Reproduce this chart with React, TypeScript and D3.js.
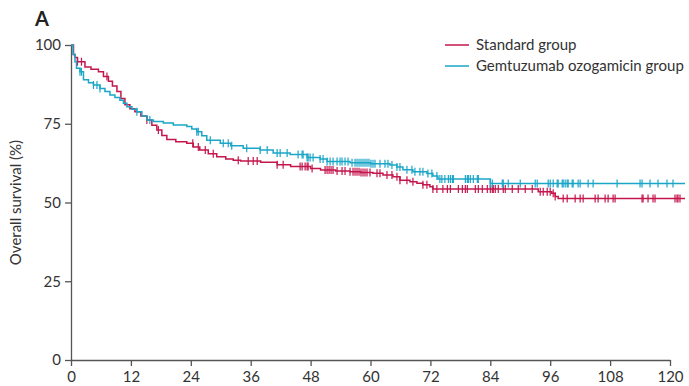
import React, { useEffect, useRef } from 'react';
import * as d3 from 'd3';

// x ticks (months) and y ticks (%)
const monthTicks = [0, 12, 24, 36, 48, 60, 72, 84, 96, 108, 120];
const survivalTicks = [0, 25, 50, 75, 100];

// Kaplan-Meier steps: [month, survival %]
const standardSteps: [number, number][] = [
  [0, 100], [0.5, 97], [0.8, 96], [1.3, 94.7], [2.8, 93], [4.0, 92.3], [5.5, 91.5],
  [6.5, 90], [7.5, 88.5], [8.3, 87], [9.2, 85.2], [10.0, 83], [10.8, 81], [11.8, 79.8],
  [12.8, 78.8], [14, 77.5], [15.2, 76.2], [16.2, 74.5], [17.2, 73], [18.2, 71.3],
  [19.2, 70], [21, 69.3], [23.2, 68.8], [24.5, 67.6], [25.8, 66.7], [27.5, 65.5],
  [29.2, 64.5], [31, 63.8], [32.5, 63.4], [34, 63.2], [38, 62.8], [41.3, 62],
  [44, 61.4], [48, 60.8], [50, 60.3], [53, 60], [55.9, 59.8], [58, 59.5], [60.5, 59.3],
  [62.5, 58.7], [64.5, 58.2], [65.9, 57.1], [67.9, 56.6], [69.3, 56.1], [70.5, 55.6],
  [71.9, 55.0], [72.5, 54.3], [93.6, 53.4], [96.3, 52.9], [97, 51.9], [97.6, 51.3],
  [123, 51.3],
];

const gemtuzumabSteps: [number, number][] = [
  [0, 100], [0.4, 97], [0.8, 94.7], [1.1, 92.6], [1.8, 91.5], [2.5, 89], [3.5, 88],
  [4.5, 87.3], [5.8, 86.2], [6.8, 85.2], [7.8, 84.1], [8.8, 83.3], [9.8, 82.5],
  [10.5, 81.5], [11.2, 80.4], [12.2, 79.6], [13.2, 78.8], [14.2, 77.5], [15.2, 76.2],
  [16.5, 75.7], [18.5, 75.2], [20.5, 74.6], [23.2, 74.1], [24.2, 73.3], [25.2, 72.5],
  [26.2, 71.2], [27.2, 69.8], [29.9, 68.8], [32, 68.0], [34.5, 67.2], [37.9, 66.7],
  [40.5, 65.7], [43.9, 65.2], [47.3, 64.3], [49.9, 63.8], [51.3, 63.0], [55.9, 62.6],
  [60, 62.3], [63.9, 61.9], [65.3, 61.3], [66.5, 60.4], [68.5, 59.8], [71.3, 59.2],
  [72.5, 58.4], [73.5, 57.5], [84, 56.0], [123, 56.0],
];

// censored observations (months)
const standardCensored = [
  1.3, 2.1, 7.2, 15.2, 17.5, 24.4, 25.5, 26.9, 28.5, 33.5, 35.5, 36.5, 37.3, 41.3, 42.5,
  45.9, 46.3, 46.9, 47.3, 47.5, 48.3, 50.9, 51.3, 51.7, 52.1, 52.5, 53.3, 54.3, 54.9,
  55.9, 56.5, 56.9, 57.3, 57.7, 58.1, 58.5, 58.9, 59.3, 59.9, 61.3, 61.9, 63.3, 64.3,
  65.3, 65.9, 67.3, 68.5, 70.5, 71.3, 72.5, 73.3, 74.5, 75.4, 76.0, 77.6, 78.4, 79.0,
  79.4, 81.0, 81.6, 82.4, 83.4, 84.0, 84.4, 84.6, 85.0, 85.6, 86.6, 87.0, 88.4, 89.6,
  91.0, 92.4, 94.0, 94.6, 95.4, 96.0, 96.6, 97.0, 98.6, 99.4, 101.0, 102.0, 102.6,
  105.0, 105.6, 107.0, 107.6, 108.6, 109.0, 114.4, 114.6, 115.6, 116.6, 117.0, 121.0,
  121.4, 121.6, 122.0,
];

const gemtuzumabCensored = [
  1.8, 2.1, 4.5, 5.2, 5.8, 13.2, 15.8, 25.2, 25.5, 27.9, 30.5, 31.5, 32.2, 35.2, 37.9,
  39.3, 41.3, 41.9, 43.3, 45.5, 46.3, 46.5, 47.3, 47.5, 47.9, 48.5, 49.9, 50.5, 51.3,
  51.9, 52.5, 53.3, 53.9, 54.3, 54.9, 55.5, 56.3, 56.9, 57.3, 57.7, 58.1, 58.5, 58.9,
  59.3, 59.7, 60.1, 60.5, 60.9, 61.9, 62.9, 63.5, 64.3, 65.3, 65.9, 67.3, 68.3, 68.9,
  69.9, 70.5, 71.5, 72.3, 73.3, 73.9, 74.3, 74.9, 75.6, 76.0, 76.4, 76.6, 79.0, 79.4,
  79.6, 80.0, 80.6, 81.4, 81.6, 84.0, 84.4, 86.4, 86.6, 87.6, 90.0, 93.0, 93.4, 95.6,
  96.0, 96.6, 97.4, 97.6, 98.4, 98.6, 99.0, 99.4, 99.6, 100.4, 100.6, 101.6, 102.0,
  103.6, 104.6, 109.4, 114.0, 114.4, 116.0, 117.6, 119.4, 120.6,
];

const groups = [
  { name: 'Standard group', steps: standardSteps, censored: standardCensored, color: '#c4164c' },
  { name: 'Gemtuzumab ozogamicin group', steps: gemtuzumabSteps, censored: gemtuzumabCensored, color: '#1ba6c8' },
];

const FONT = 'Lato, "Open Sans", sans-serif';

const App: React.FC = () => {
  const svgRef = useRef<SVGSVGElement>(null);

  useEffect(() => {
    if (!svgRef.current) return;
    const svg = d3.select(svgRef.current);
    svg.selectAll('*').remove();

    const margin = { top: 45, right: 19, bottom: 26, left: 71 };
    const width = 689 - margin.left - margin.right;
    const height = 386 - margin.top - margin.bottom;

    const g = svg.append('g').attr('transform', `translate(${margin.left},${margin.top})`);

    const x = d3.scaleLinear().domain([0, 120]).range([0, 599]);
    const y = d3.scaleLinear().domain([0, 100]).range([height, 0]);

    // 坐标轴
    const xAxis = g.append('g')
      .attr('transform', `translate(0,${height})`)
      .call(d3.axisBottom(x).tickValues(monthTicks).tickSize(6).tickSizeOuter(0).tickPadding(5));
    const yAxis = g.append('g')
      .call(d3.axisLeft(y).tickValues(survivalTicks).tickSize(6).tickSizeOuter(0).tickPadding(4));

    [xAxis, yAxis].forEach(a => {
      a.select('.domain').attr('stroke', '#555').attr('stroke-width', 1.3);
      a.selectAll('.tick line').attr('stroke', '#555').attr('stroke-width', 1.3);
      a.selectAll('.tick text')
        .attr('fill', '#333')
        .style('font-family', FONT)
        .style('font-size', '15px');
    });

    // 生存曲线
    const line = d3.line<[number, number]>()
      .x(d => x(d[0]))
      .y(d => y(d[1]))
      .curve(d3.curveStepAfter);

    const bisect = d3.bisector((d: [number, number]) => d[0]).right;

    groups.forEach(grp => {
      g.append('path')
        .datum(grp.steps)
        .attr('fill', 'none')
        .attr('stroke', grp.color)
        .attr('stroke-width', 1.5)
        .attr('d', line);

      const valueAt = (t: number) => grp.steps[Math.max(0, bisect(grp.steps, t) - 1)][1];

      g.append('g')
        .selectAll('line')
        .data(grp.censored)
        .join('line')
        .attr('x1', d => x(d))
        .attr('x2', d => x(d))
        .attr('y1', d => y(valueAt(d)) - 4)
        .attr('y2', d => y(valueAt(d)) + 4)
        .attr('stroke', grp.color)
        .attr('stroke-width', 1.2);
    });

    // 图例
    const legend = svg.append('g').attr('transform', 'translate(445,45)');
    groups.forEach((grp, i) => {
      legend.append('line')
        .attr('x1', 0).attr('x2', 24)
        .attr('y1', i * 21).attr('y2', i * 21)
        .attr('stroke', grp.color)
        .attr('stroke-width', 1.5);
      legend.append('text')
        .attr('x', 31)
        .attr('y', i * 21)
        .attr('dy', '0.35em')
        .attr('fill', '#333')
        .style('font-family', FONT)
        .style('font-size', '15px')
        .text(grp.name);
    });

    // 标题和y轴标签
    svg.append('text')
      .attr('x', 35).attr('y', 26)
      .attr('fill', '#222')
      .style('font-family', FONT)
      .style('font-size', '20px')
      .style('font-weight', 'bold')
      .text('A');

    svg.append('text')
      .attr('transform', `translate(21,${margin.top + height / 2}) rotate(-90)`)
      .attr('text-anchor', 'middle')
      .attr('fill', '#333')
      .style('font-family', FONT)
      .style('font-size', '15px')
      .text('Overall survival (%)');
  }, []);

  return (
    <svg
      ref={svgRef}
      width={689}
      height={386}
      style={{ position: 'absolute', left: 0, top: 0, background: '#fff' }}
    />
  );
};

export default App;
